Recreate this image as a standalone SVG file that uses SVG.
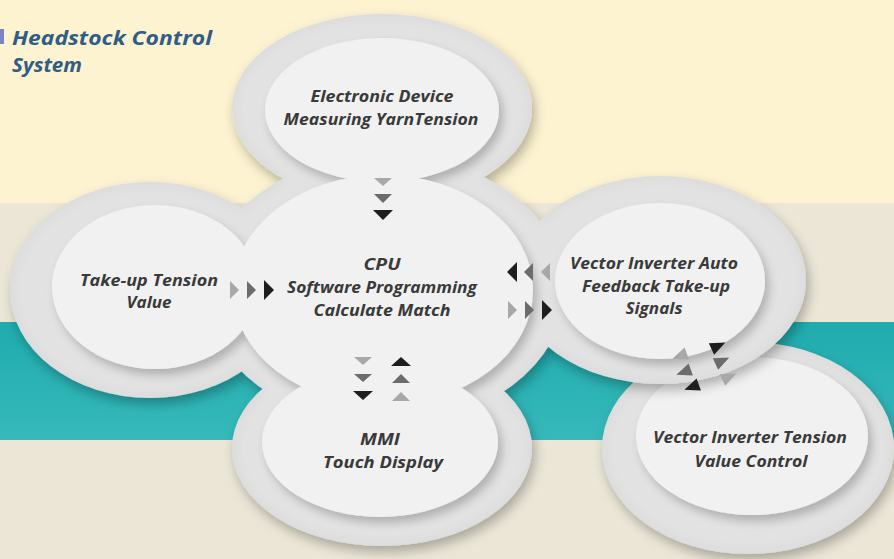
<svg xmlns="http://www.w3.org/2000/svg" width="894" height="559" viewBox="0 0 894 559">
<style>
.halo{fill:#e2e2e2}
.inner{fill:#f1f1f1}
.lbl{font-family:"Open Sans",Lato,"DejaVu Sans",sans-serif;font-weight:bold;font-style:italic;font-size:15.5px;fill:#3a3a3a;text-anchor:middle}
.title{font-family:"Open Sans",Lato,"DejaVu Sans",sans-serif;font-weight:bold;font-style:italic;font-size:20px;fill:#2f5d86}
.t1{fill:#a8a8a8}
.t2{fill:#6c6c6c}
.t3{fill:#1e1e1e}
</style>
<defs>
<filter id="haloShadow" x="-20%" y="-20%" width="140%" height="140%">
<feGaussianBlur in="SourceAlpha" stdDeviation="7" result="b"/>
<feComposite in="SourceAlpha" in2="b" operator="out" result="edge"/>
<feFlood flood-color="#000" flood-opacity="0.10"/>
<feComposite in2="edge" operator="in" result="edgeShade"/>
<feGaussianBlur in="SourceAlpha" stdDeviation="6" result="sb"/>
<feOffset in="sb" dx="3" dy="6" result="so"/>
<feFlood flood-color="#000" flood-opacity="0.28"/>
<feComposite in2="so" operator="in" result="shadow"/>
<feMerge>
<feMergeNode in="shadow"/>
<feMergeNode in="SourceGraphic"/>
<feMergeNode in="edgeShade"/>
</feMerge>
</filter>
<filter id="innerShadow" x="-20%" y="-20%" width="140%" height="140%">
<feDropShadow dx="4" dy="6" stdDeviation="5" flood-color="#000" flood-opacity="0.22"/>
</filter>
<linearGradient id="teal" x1="0" y1="0" x2="0" y2="1">
<stop offset="0" stop-color="#1fabae"/>
<stop offset="1" stop-color="#36b9ba"/>
</linearGradient>
<polygon id="tri" points="-8,-7 -8,7 9,0"/>
</defs>

<g id="background">
<rect x="0" y="0" width="894" height="203" fill="#fdf3d1"/>
<rect x="0" y="203" width="894" height="120" fill="#ebe6d6"/>
<rect x="0" y="322" width="894" height="118" fill="url(#teal)"/>
<rect x="0" y="440" width="894" height="119" fill="#ebe6d6"/>
</g>

<g id="title">
<rect x="0" y="29" width="4" height="15" fill="#7d84c4"/>
<text class="title" x="12" y="45" textLength="200" lengthAdjust="spacingAndGlyphs">Headstock Control</text>
<text class="title" x="12" y="72" textLength="70" lengthAdjust="spacingAndGlyphs">System</text>
</g>

<g id="node-value-control">
<ellipse class="halo" cx="748" cy="448" rx="146" ry="106" filter="url(#haloShadow)"/>
<g filter="url(#innerShadow)">
<ellipse class="inner" cx="752" cy="436" rx="116" ry="79"/>
</g>
<text class="lbl" x="750" y="443" textLength="194" lengthAdjust="spacingAndGlyphs">Vector Inverter Tension</text>
<text class="lbl" x="751" y="467" textLength="113" lengthAdjust="spacingAndGlyphs">Value Control</text>
</g>

<g id="main-cloud-halo" filter="url(#haloShadow)">
<ellipse class="halo" cx="382" cy="108" rx="150" ry="94"/>
<ellipse class="halo" cx="150" cy="290" rx="140" ry="108"/>
<ellipse class="halo" cx="385" cy="290" rx="180" ry="135"/>
<ellipse class="halo" cx="660" cy="280" rx="146" ry="104"/>
<ellipse class="halo" cx="382" cy="448" rx="150" ry="98"/>
</g>

<g id="main-cloud" filter="url(#innerShadow)">
<g id="node-cpu">
<ellipse class="inner" cx="383" cy="290" rx="150" ry="115"/>
</g>
<g id="node-measuring">
<ellipse class="inner" cx="382" cy="110" rx="117" ry="72"/>
</g>
<g id="node-takeup">
<ellipse class="inner" cx="155" cy="287" rx="103" ry="82"/>
</g>
<g id="node-feedback">
<ellipse class="inner" cx="660" cy="281" rx="105" ry="78"/>
</g>
<g id="node-mmi">
<ellipse class="inner" cx="380" cy="442" rx="118" ry="75"/>
</g>
</g>

<g id="labels">
<text class="lbl" x="382" y="102" textLength="143" lengthAdjust="spacingAndGlyphs">Electronic Device</text>
<text class="lbl" x="381" y="125" textLength="195" lengthAdjust="spacingAndGlyphs">Measuring YarnTension</text>
<text class="lbl" x="382" y="270" textLength="37" lengthAdjust="spacingAndGlyphs">CPU</text>
<text class="lbl" x="382" y="293" textLength="190" lengthAdjust="spacingAndGlyphs">Software Programming</text>
<text class="lbl" x="382" y="316" textLength="137" lengthAdjust="spacingAndGlyphs">Calculate Match</text>
<text class="lbl" x="149" y="286" textLength="138" lengthAdjust="spacingAndGlyphs">Take-up Tension</text>
<text class="lbl" x="149" y="308" textLength="45" lengthAdjust="spacingAndGlyphs">Value</text>
<text class="lbl" x="654" y="269" textLength="168" lengthAdjust="spacingAndGlyphs">Vector Inverter Auto</text>
<text class="lbl" x="656" y="292" textLength="148" lengthAdjust="spacingAndGlyphs">Feedback Take-up</text>
<text class="lbl" x="654" y="314" textLength="57" lengthAdjust="spacingAndGlyphs">Signals</text>
<text class="lbl" x="380" y="445" textLength="40" lengthAdjust="spacingAndGlyphs">MMI</text>
<text class="lbl" x="383" y="468" textLength="120" lengthAdjust="spacingAndGlyphs">Touch Display</text>
</g>

<g id="connectors">
<polygon class="t1" points="374,178 392,178 383,186"/>
<polygon class="t2" points="374,194 392,194 383,203"/>
<polygon class="t3" points="373,210 393,210 383,220"/>
<polygon class="t1" points="230,281 230,299 239,290"/>
<polygon class="t2" points="247,281 247,299 256,290"/>
<polygon class="t3" points="264,280 264,300 274,290"/>
<polygon class="t3" points="517,262 517,282 507,272"/>
<polygon class="t2" points="533,263 533,281 524,272"/>
<polygon class="t1" points="550,263 550,281 541,272"/>
<polygon class="t1" points="508,301 508,319 517,310"/>
<polygon class="t2" points="525,301 525,319 534,310"/>
<polygon class="t3" points="542,300 542,320 552,310"/>
<polygon class="t1" points="354,357 372,357 363,365"/>
<polygon class="t2" points="354,374 372,374 363,382"/>
<polygon class="t3" points="353,391 373,391 363,400"/>
<polygon class="t3" points="391,366 411,366 401,357"/>
<polygon class="t2" points="392,383 410,383 401,374"/>
<polygon class="t1" points="392,401 410,401 401,392"/>
<use href="#tri" class="t1" transform="translate(729,377) rotate(-25) scale(0.9)"/>
<use href="#tri" class="t2" transform="translate(722,361) rotate(-25) scale(0.9)"/>
<use href="#tri" class="t3" transform="translate(718,346) rotate(-25) scale(0.9)"/>
<use href="#tri" class="t1" transform="translate(680,356) rotate(160) scale(0.9)"/>
<use href="#tri" class="t2" transform="translate(684,372) rotate(160) scale(0.9)"/>
<use href="#tri" class="t3" transform="translate(692,387) rotate(160) scale(0.9)"/>
</g>
</svg>
